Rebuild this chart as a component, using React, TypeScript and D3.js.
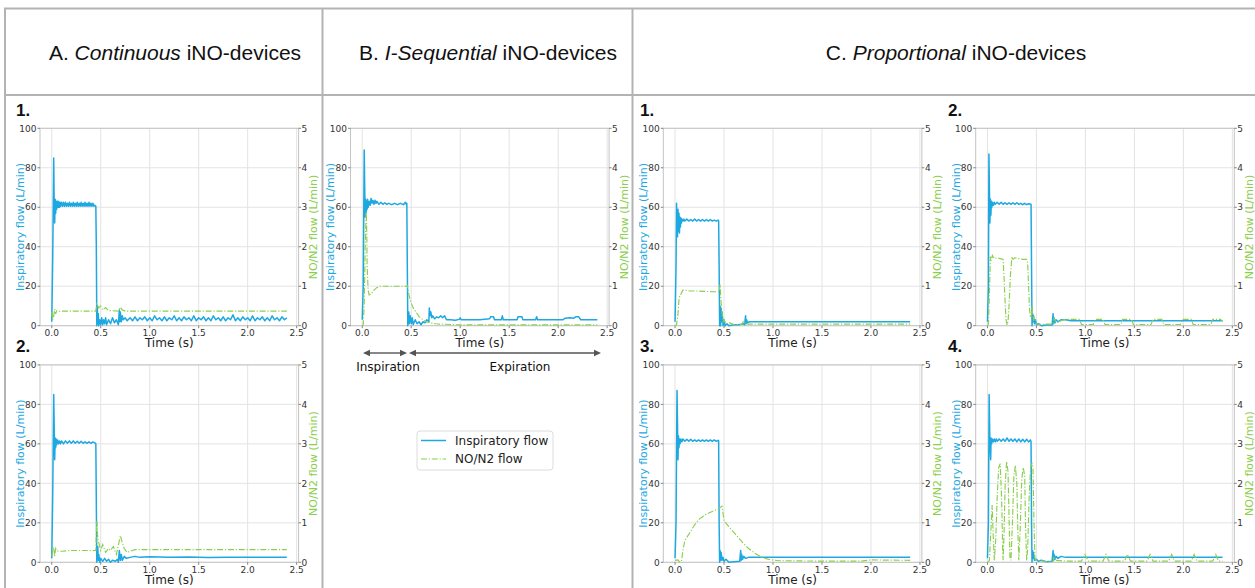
import React from "react";
import * as d3 from "d3";

type Pt = [number, number];

const TIME_TICKS = [0, 0.5, 1.0, 1.5, 2.0, 2.5];
const LEFT_TICKS = [0, 20, 40, 60, 80, 100];
const RIGHT_TICKS = [0, 1, 2, 3, 4, 5];

// ---- A1 (Continuous, device 1) ----
const a1Insp: Pt[] = [
  [0,2],[0.01,35],[0.02,85],[0.025,60],[0.03,52],[0.035,64],[0.04,57],[0.045,63],[0.05,59],[0.055,63],[0.06,60],[0.065,63],[0.07,60],[0.075,62.5],[0.08,60],[0.085,62.5],[0.09,60.5],[0.1,62.5],[0.11,60.5],[0.12,62.5],[0.13,60.5],[0.14,62.5],[0.15,60.5],[0.16,62],[0.17,60.5],[0.18,62.5],[0.19,60.5],[0.2,62],[0.21,60.5],[0.22,62.5],[0.23,60.5],[0.24,62],[0.25,60.5],[0.26,62.5],[0.27,60.5],[0.28,62],[0.29,60.5],[0.3,62.5],[0.31,60.5],[0.32,62],[0.33,60.5],[0.34,62.5],[0.35,60.5],[0.36,62],[0.37,60.5],[0.38,62.5],[0.39,60.5],[0.4,62],[0.41,60.5],[0.42,62],[0.43,60.5],[0.44,61],[0.45,60.5],[0.455,40],[0.46,0],[0.465,10],[0.47,1],[0.475,6],[0.48,0],[0.49,3],[0.5,0.5],[0.51,4],[0.52,0.5],[0.53,3],[0.54,1],[0.55,4],[0.56,0.5],[0.58,3],[0.6,1],[0.62,4],[0.64,1.5],[0.66,3],[0.68,0.5],[0.69,8],[0.695,2],[0.7,7],[0.71,2],[0.72,5],[0.73,3],[0.75,4],[0.77,2.5],
  [0.8,4],[0.825,2.5],[0.85,4.5],[0.875,2.5],[0.9,4],[0.925,3],[0.95,4.5],[0.975,2.5],[1.0,4],[1.025,2.5],[1.05,5],[1.075,3],[1.1,4],[1.125,2.5],[1.15,4.5],[1.175,2.5],[1.2,4],[1.225,3],[1.25,5],[1.275,2.5],[1.3,4],[1.325,2.5],[1.35,4.5],[1.375,3],[1.4,4],[1.425,2.5],[1.45,5],[1.475,2.5],[1.5,4],[1.525,3],[1.55,4.5],[1.575,2.5],[1.6,4],[1.625,2.5],[1.65,5],[1.675,3],[1.7,4],[1.725,2.5],[1.75,4.5],[1.775,2.5],[1.8,4],[1.825,3],[1.85,5.5],[1.875,2.5],[1.9,4],[1.925,2.5],[1.95,4.5],[1.975,3],[2.0,4],[2.025,2.5],[2.05,5],[2.075,2.5],[2.1,4],[2.125,3],[2.15,4.5],[2.175,2.5],[2.2,4],[2.225,2.5],[2.25,5],[2.275,3],[2.3,4],[2.325,2.5],[2.35,4.5],[2.375,3],[2.4,4]
];
const a1No: Pt[] = [
  [0,0.35],[0.01,0.15],[0.02,0.25],[0.03,0.42],[0.04,0.3],[0.05,0.38],[0.07,0.36],[0.1,0.37],[0.45,0.37],[0.46,0.55],[0.48,0.45],[0.5,0.5],[0.52,0.4],[0.55,0.46],[0.58,0.38],[0.62,0.38],[0.68,0.37],[0.7,0.47],[0.72,0.4],[0.75,0.37],[1.5,0.37],[2.4,0.37]
];

// ---- A2 (Continuous, device 2) ----
const a2Insp: Pt[] = [
  [0,2],[0.01,35],[0.02,85],[0.03,52],[0.035,63],[0.04,58],[0.045,62.5],[0.05,59.5],[0.06,62],[0.07,60],[0.08,61.5],[0.09,60],[0.1,61.5],[0.12,60],[0.14,61.5],[0.16,60.3],[0.18,61.5],[0.2,60.3],[0.22,61.5],[0.24,60.3],[0.26,61.3],[0.28,60.3],[0.3,61.3],[0.32,60.3],[0.34,61],[0.36,60.3],[0.38,61],[0.4,60.3],[0.42,61],[0.44,60.5],[0.45,60],[0.455,30],[0.46,0],[0.47,8],[0.475,1],[0.48,4],[0.49,0],[0.5,2],[0.52,0.5],[0.54,2],[0.56,0.5],[0.58,1.5],[0.6,0],[0.62,1],[0.65,0.5],[0.67,1.5],[0.68,0],[0.69,6],[0.7,1],[0.71,4],[0.72,1],[0.74,3],[0.76,2],[0.8,2.5],[0.85,3],[0.9,2.5],[1.0,2.8],[1.2,2.5],[1.4,2.7],[1.6,2.4],[1.8,2.6],[2.0,2.5],[2.2,2.6],[2.4,2.5]
];
const a2No: Pt[] = [
  [0,0.15],[0.01,0.3],[0.02,0.38],[0.03,0.15],[0.04,0.35],[0.05,0.3],[0.07,0.28],[0.1,0.28],[0.2,0.3],[0.45,0.3],[0.455,0.8],[0.46,1.05],[0.47,0.6],[0.48,0.5],[0.5,0.3],[0.52,0.45],[0.55,0.25],[0.58,0.35],[0.6,0.3],[0.63,0.4],[0.66,0.2],[0.69,0.55],[0.7,0.68],[0.72,0.5],[0.74,0.35],[0.77,0.25],[0.8,0.28],[0.85,0.32],[1.5,0.32],[2.4,0.32]
];

// ---- B (I-Sequential) ----
const bInsp: Pt[] = [
  [0,3],[0.01,20],[0.02,89],[0.025,70],[0.03,55],[0.035,64],[0.04,57],[0.045,63],[0.05,59],[0.055,64],[0.06,60],[0.07,63],[0.08,61],[0.09,64.5],[0.1,62],[0.11,63.5],[0.12,61.5],[0.13,63.5],[0.14,62],[0.15,63],[0.17,61.5],[0.19,62.5],[0.21,61.5],[0.23,62.3],[0.25,61.5],[0.27,62],[0.3,61.3],[0.33,62],[0.36,61.3],[0.39,62],[0.42,61.3],[0.44,62.5],[0.45,61.5],[0.455,62],[0.46,30],[0.465,0],[0.47,5],[0.475,7],[0.48,1],[0.49,5],[0.5,1],[0.51,4],[0.52,0.5],[0.54,3],[0.56,1],[0.58,2],[0.6,0.5],[0.62,2],[0.64,1.5],[0.66,3],[0.68,2],[0.685,9],[0.69,5],[0.7,7],[0.71,4],[0.72,5],[0.74,3.5],[0.76,4.5],[0.78,4],[0.8,5],[0.82,4],[0.84,5],[0.86,3],[0.9,3],[0.95,2.8],[0.99,3.2],[1.0,4],[1.01,3],[1.1,3],[1.2,3],[1.3,3.5],[1.31,4.5],[1.34,4.5],[1.35,3],[1.42,3],[1.43,5],[1.44,3],[1.58,3],[1.59,4.5],[1.63,4.5],[1.64,3],[1.77,3],[1.78,4.5],[1.79,3],[2.05,3],[2.07,3.8],[2.12,4],[2.16,3.8],[2.18,4.5],[2.21,4.5],[2.23,3],[2.4,3]
];
const bNo: Pt[] = [
  [0,0],[0.01,0.02],[0.02,0.5],[0.03,2.0],[0.04,2.9],[0.045,2.5],[0.05,1.5],[0.06,0.9],[0.07,0.78],[0.09,0.8],[0.12,0.9],[0.15,0.97],[0.18,1.0],[0.3,1.0],[0.45,1.0],[0.46,1.02],[0.47,0.85],[0.49,0.65],[0.5,0.57],[0.52,0.45],[0.55,0.34],[0.58,0.23],[0.62,0.15],[0.65,0.1],[0.7,0.07],[0.75,0.05],[0.8,0.04],[0.9,0.03],[1.0,0.02],[1.5,0.02],[2.0,0.02],[2.4,0.02]
];

// ---- C1 (Proportional, device 1) ----
const c1Insp: Pt[] = [
  [0,2],[0.01,30],[0.015,62],[0.02,50],[0.025,45],[0.03,59],[0.035,48],[0.04,57],[0.045,47],[0.05,55],[0.055,50],[0.06,54.5],[0.065,52],[0.07,54],[0.08,53],[0.09,54],[0.1,53],[0.12,54],[0.14,53],[0.16,53.8],[0.18,53],[0.2,54],[0.22,53],[0.24,53.8],[0.26,53],[0.28,53.8],[0.3,53],[0.32,53.8],[0.34,53],[0.36,53.8],[0.38,53],[0.4,53.5],[0.42,53],[0.44,53.5],[0.445,53],[0.45,30],[0.455,0],[0.46,10],[0.465,0],[0.47,9],[0.475,2],[0.48,7],[0.49,0],[0.5,3],[0.51,0],[0.53,1],[0.55,0],[0.6,0.5],[0.65,0.5],[0.7,1],[0.71,0.5],[0.72,5],[0.725,1],[0.73,3],[0.74,1.5],[0.76,2],[0.8,2],[1.0,2],[1.5,2],[2.0,2],[2.4,2]
];
const c1No: Pt[] = [
  [0,0],[0.015,0.02],[0.03,0.3],[0.04,0.65],[0.05,0.78],[0.06,0.8],[0.08,0.9],[0.1,0.9],[0.15,0.88],[0.2,0.88],[0.3,0.87],[0.4,0.86],[0.45,0.86],[0.46,1.05],[0.47,0.6],[0.48,0.3],[0.49,0.1],[0.5,0.15],[0.52,0.04],[0.55,0.08],[0.6,0.03],[0.68,0.03],[0.7,0.12],[0.72,0.05],[0.75,0.04],[1.0,0.04],[1.5,0.04],[2.0,0.04],[2.4,0.04]
];

// ---- C2 (Proportional, device 2) ----
const c2Insp: Pt[] = [
  [0,2],[0.01,20],[0.015,87],[0.02,70],[0.025,52],[0.03,64],[0.035,56],[0.04,63],[0.045,60],[0.05,62.5],[0.06,61],[0.07,62.5],[0.08,61.5],[0.1,62.5],[0.12,61.5],[0.14,62.5],[0.16,61.5],[0.18,62.3],[0.2,61.5],[0.22,62.3],[0.24,61.5],[0.26,62.3],[0.28,61.5],[0.3,62.3],[0.32,61.5],[0.34,62],[0.36,61.3],[0.38,62],[0.4,61.3],[0.42,61.8],[0.44,61.5],[0.445,61.5],[0.45,30],[0.455,0],[0.46,6],[0.465,2],[0.47,5],[0.48,1],[0.49,3],[0.5,0.5],[0.52,1],[0.55,0],[0.6,0.3],[0.66,0.3],[0.67,6],[0.675,1],[0.68,4],[0.69,1.5],[0.7,3],[0.72,2],[0.75,3],[0.8,3],[0.85,2.5],[1.0,2.5],[1.5,2.5],[2.0,2.5],[2.4,2.5]
];
const c2No: Pt[] = [
  [0,0],[0.01,0.05],[0.02,0.8],[0.03,1.75],[0.04,1.65],[0.05,1.78],[0.07,1.7],[0.1,1.72],[0.13,1.7],[0.16,1.68],[0.17,1.2],[0.18,0.6],[0.19,0.15],[0.2,0.02],[0.21,0.1],[0.22,0.5],[0.235,1.3],[0.25,1.75],[0.26,1.68],[0.28,1.72],[0.32,1.7],[0.36,1.68],[0.4,1.68],[0.41,1.6],[0.42,1.0],[0.43,0.4],[0.44,0.2],[0.45,0.3],[0.455,0.5],[0.46,0.35],[0.47,0.15],[0.48,0.2],[0.5,0.05],[0.55,0.03],[0.6,0.04],[0.67,0.04],[0.68,0.18],[0.7,0.08],[0.73,0.1],[0.76,0.14],[0.8,0.16],[0.94,0.16],[0.96,0.03],[1.08,0.03],[1.1,0.16],[1.18,0.16],[1.2,0.03],[1.36,0.03],[1.38,0.16],[1.47,0.16],[1.49,0.03],[1.67,0.03],[1.69,0.16],[1.78,0.16],[1.8,0.03],[1.97,0.03],[1.99,0.16],[2.08,0.16],[2.1,0.03],[2.28,0.03],[2.3,0.16],[2.38,0.16],[2.4,0.1]
];

// ---- C3 (Proportional, device 3) ----
const c3Insp: Pt[] = [
  [0,2],[0.01,20],[0.02,87],[0.025,70],[0.03,52],[0.035,64],[0.04,58],[0.045,62.5],[0.05,60],[0.06,62.5],[0.07,61],[0.08,62.5],[0.1,61.3],[0.12,62.3],[0.14,61.3],[0.16,62.3],[0.18,61.3],[0.2,62],[0.22,61.3],[0.24,62],[0.26,61.3],[0.28,62],[0.3,61.3],[0.32,62],[0.34,61.3],[0.36,62],[0.38,61.3],[0.4,62],[0.42,61.3],[0.44,61.8],[0.445,61.5],[0.45,20],[0.455,0],[0.46,6],[0.465,1],[0.47,5],[0.48,1],[0.49,2.5],[0.5,0.5],[0.52,1.5],[0.55,0],[0.6,0.3],[0.66,0.5],[0.67,6],[0.675,1],[0.68,4],[0.69,1.5],[0.7,3],[0.72,2],[0.75,2.5],[0.8,2.5],[1.0,2.5],[1.5,2.5],[2.0,2.5],[2.4,2.5]
];
const c3No: Pt[] = [
  [0,0.05],[0.03,0.06],[0.05,0.0],[0.067,0.05],[0.08,0.3],[0.1,0.55],[0.15,0.75],[0.2,0.95],[0.25,1.1],[0.32,1.22],[0.39,1.3],[0.44,1.35],[0.48,1.42],[0.5,1.05],[0.55,0.9],[0.62,0.7],[0.69,0.5],[0.75,0.35],[0.82,0.22],[0.89,0.12],[0.96,0.07],[1.06,0.04],[1.5,0.03],[1.9,0.03],[2.0,0.06],[2.4,0.05]
];

// ---- C4 (Proportional, device 4) ----
const c4Insp: Pt[] = [
  [0,2],[0.01,20],[0.017,85],[0.025,60],[0.033,52],[0.037,63],[0.042,60],[0.05,62.5],[0.06,61],[0.07,62.5],[0.08,61],[0.09,62.5],[0.1,61.3],[0.12,62.5],[0.14,61.3],[0.16,62.5],[0.18,61.3],[0.2,63],[0.22,61.3],[0.24,62.5],[0.26,61.3],[0.28,62.5],[0.3,61],[0.32,62.5],[0.34,61],[0.36,62.3],[0.38,61],[0.4,62.3],[0.42,61],[0.44,62],[0.445,61],[0.45,20],[0.455,0],[0.46,6],[0.465,2],[0.47,5],[0.48,1],[0.5,1.5],[0.52,0.5],[0.55,1],[0.6,0.3],[0.66,0.5],[0.67,6],[0.675,1],[0.68,4],[0.69,1.5],[0.7,3],[0.72,2],[0.75,3],[0.8,2.5],[1.0,2.5],[1.5,2.5],[2.0,2.5],[2.4,2.5]
];
const c4No: Pt[] = [
  [0,0],[0.02,0.05],[0.035,0.8],[0.048,1.45],[0.06,0.6],[0.07,0.05],[0.085,0.6],[0.1,1.7],[0.115,2.4],[0.13,2.5],[0.145,1.6],[0.155,0.3],[0.16,0.05],[0.17,0.8],[0.18,1.9],[0.195,2.55],[0.21,2.3],[0.22,1.2],[0.23,0.1],[0.24,0.05],[0.255,1.0],[0.27,2.2],[0.285,2.45],[0.3,2.0],[0.31,0.8],[0.32,0.05],[0.335,0.9],[0.35,2.1],[0.365,2.4],[0.38,2.2],[0.39,0.8],[0.4,0.05],[0.41,0.3],[0.425,1.6],[0.44,2.4],[0.455,2.5],[0.465,2.4],[0.475,1.0],[0.485,0.1],[0.5,0.05],[0.55,0.04],[0.6,0.02],[0.67,0.02],[0.68,0.15],[0.7,0.05],[0.8,0.03],[0.96,0.03],[0.995,0.2],[1.03,0.03],[1.18,0.03],[1.21,0.2],[1.24,0.03],[1.4,0.03],[1.43,0.2],[1.46,0.03],[1.63,0.03],[1.66,0.2],[1.69,0.03],[1.85,0.03],[1.88,0.2],[1.91,0.03],[2.08,0.03],[2.11,0.2],[2.14,0.03],[2.3,0.03],[2.33,0.2],[2.36,0.03],[2.4,0.03]
];

const BLUE = "#1ea8e2";
const GREEN = "#8ccf4d";
const GRID = "#e3e3e3";
const SPINE = "#c4c4c4";
const TABLE = "#b3b3b3";
const PW = 258.6;
const PH = 197.4;
const TICK_FONT = "DejaVu Sans";

function Panel({ x0, y0, insp, no }: { x0: number; y0: number; insp: Pt[]; no: Pt[] }) {
  const xs = d3.scaleLinear().domain([-0.12, 2.52]).range([x0, x0 + PW]);
  const yl = d3.scaleLinear().domain([0, 100]).range([y0 + PH, y0]);
  const yr = d3.scaleLinear().domain([0, 5]).range([y0 + PH, y0]);
  const lineL = d3.line<Pt>().x((d) => xs(d[0])).y((d) => yl(d[1]));
  const lineR = d3.line<Pt>().x((d) => xs(d[0])).y((d) => yr(d[1]));
  const bottom = y0 + PH;
  const right = x0 + PW;
  const midY = y0 + PH / 2;
  return (
    <g>
      {TIME_TICKS.map((t) => (
        <line key={"gx" + t} x1={xs(t)} x2={xs(t)} y1={y0} y2={bottom} stroke={GRID} strokeWidth={1} />
      ))}
      {LEFT_TICKS.map((v) => (
        <line key={"gy" + v} x1={x0} x2={right} y1={yl(v)} y2={yl(v)} stroke={GRID} strokeWidth={1} />
      ))}
      <rect x={x0} y={y0} width={PW} height={PH} fill="none" stroke={SPINE} strokeWidth={1} />
      {TIME_TICKS.map((t) => (
        <g key={"tx" + t}>
          <line x1={xs(t)} x2={xs(t)} y1={bottom} y2={bottom + 2.5} stroke="#666" strokeWidth={0.8} />
          <text x={xs(t)} y={bottom + 10.3} fontSize={9} fontFamily={TICK_FONT} fill="#333" textAnchor="middle">
            {t.toFixed(1)}
          </text>
        </g>
      ))}
      {LEFT_TICKS.map((v) => (
        <g key={"tl" + v}>
          <line x1={x0 - 2.5} x2={x0} y1={yl(v)} y2={yl(v)} stroke="#666" strokeWidth={0.8} />
          <text x={x0 - 3.5} y={yl(v) + 3.2} fontSize={9} fontFamily={TICK_FONT} fill="#333" textAnchor="end">
            {v}
          </text>
        </g>
      ))}
      {RIGHT_TICKS.map((v) => (
        <g key={"tr" + v}>
          <line x1={right} x2={right + 2.5} y1={yr(v)} y2={yr(v)} stroke="#666" strokeWidth={0.8} />
          <text x={right + 3} y={yr(v) + 3.2} fontSize={9} fontFamily={TICK_FONT} fill="#333" textAnchor="start">
            {v}
          </text>
        </g>
      ))}
      <path d={lineL(insp) || ""} fill="none" stroke={BLUE} strokeWidth={1.5} strokeLinejoin="round" />
      <path d={lineR(no) || ""} fill="none" stroke={GREEN} strokeWidth={1.15} strokeDasharray="6,1.8,1.2,1.8" />
      <text
        transform={`translate(${x0 - 20},${midY}) rotate(-90)`}
        fontSize={11}
        fontFamily={TICK_FONT}
        fill={BLUE}
        textAnchor="middle"
        dy="0.35em"
      >
        Inspiratory flow (L/min)
      </text>
      <text
        transform={`translate(${right + 15},${midY}) rotate(-90)`}
        fontSize={11}
        fontFamily={TICK_FONT}
        fill={GREEN}
        textAnchor="middle"
        dy="0.35em"
      >
        NO/N2 flow (L/min)
      </text>
      <text x={(x0 + right) / 2} y={bottom + 21.5} fontSize={12} fontFamily={TICK_FONT} fill="#222" textAnchor="middle">
        Time (s)
      </text>
    </g>
  );
}

function Arrow({ x1, x2, y }: { x1: number; x2: number; y: number }) {
  const L = 7;
  const H = 3.2;
  return (
    <g fill="#555" stroke="#555">
      <line x1={x1 + L - 1} x2={x2 - L + 1} y1={y} y2={y} strokeWidth={1.4} />
      <polygon points={`${x1},${y} ${x1 + L},${y - H} ${x1 + L},${y + H}`} stroke="none" />
      <polygon points={`${x2},${y} ${x2 - L},${y - H} ${x2 - L},${y + H}`} stroke="none" />
    </g>
  );
}

const HEADER_FONT = "Liberation Sans, Arial, sans-serif";

export default function App() {
  const top1 = 128.3;
  const top2 = 364.9;
  return (
    <svg
      width={1255}
      height={588}
      style={{ position: "absolute", left: 0, top: 0, background: "#fff" }}
    >
      <rect x={0} y={0} width={1255} height={588} fill="#fff" />
      {/* table grid */}
      <line x1={4} x2={1255} y1={8.5} y2={8.5} stroke={TABLE} strokeWidth={2} />
      <line x1={4} x2={1255} y1={95} y2={95} stroke={TABLE} strokeWidth={2} />
      <line x1={5} x2={5} y1={8} y2={588} stroke={TABLE} strokeWidth={2} />
      <line x1={322.5} x2={322.5} y1={8} y2={588} stroke={TABLE} strokeWidth={2} />
      <line x1={632.5} x2={632.5} y1={8} y2={588} stroke={TABLE} strokeWidth={2} />

      {/* headers */}
      <text x={175} y={59.5} fontSize={21} fontFamily={HEADER_FONT} fill="#111" textAnchor="middle">
        A. <tspan fontStyle="italic">Continuous</tspan> iNO-devices
      </text>
      <text x={488} y={59.5} fontSize={21} fontFamily={HEADER_FONT} fill="#111" textAnchor="middle">
        B. <tspan fontStyle="italic">I-Sequential</tspan> iNO-devices
      </text>
      <text x={956} y={59.5} fontSize={21} fontFamily={HEADER_FONT} fill="#111" textAnchor="middle">
        C. <tspan fontStyle="italic">Proportional</tspan> iNO-devices
      </text>

      {/* panel numbers */}
      <g fontFamily={HEADER_FONT} fontWeight="bold" fontSize={17} fill="#111">
        <text x={16} y={116}>1.</text>
        <text x={16} y={352}>2.</text>
        <text x={640} y={116}>1.</text>
        <text x={948} y={116}>2.</text>
        <text x={640} y={352}>3.</text>
        <text x={948} y={352}>4.</text>
      </g>

      <Panel x0={40} y0={top1} insp={a1Insp} no={a1No} />
      <Panel x0={40} y0={top2} insp={a2Insp} no={a2No} />
      <Panel x0={350.5} y0={top1} insp={bInsp} no={bNo} />
      <Panel x0={663.3} y0={top1} insp={c1Insp} no={c1No} />
      <Panel x0={975.7} y0={top1} insp={c2Insp} no={c2No} />
      <Panel x0={663.3} y0={top2} insp={c3Insp} no={c3No} />
      <Panel x0={975.7} y0={top2} insp={c4Insp} no={c4No} />

      {/* inspiration / expiration arrows */}
      <Arrow x1={363} x2={407} y={353} />
      <Arrow x1={409} x2={601} y={353} />
      <text x={388} y={371} fontSize={12} fontFamily={TICK_FONT} fill="#111" textAnchor="middle">
        Inspiration
      </text>
      <text x={520} y={371} fontSize={12} fontFamily={TICK_FONT} fill="#111" textAnchor="middle">
        Expiration
      </text>

      {/* legend */}
      <rect x={417} y={431} width={136} height={39} rx={3} fill="#fff" stroke="#dcdcdc" strokeWidth={1} />
      <line x1={421} x2={446} y1={440.5} y2={440.5} stroke={BLUE} strokeWidth={1.5} />
      <line x1={421} x2={446} y1={459} y2={459} stroke={GREEN} strokeWidth={1.15} strokeDasharray="6,1.8,1.2,1.8" />
      <text x={455} y={444.5} fontSize={12} fontFamily={TICK_FONT} fill="#222">
        Inspiratory flow
      </text>
      <text x={455} y={463} fontSize={12} fontFamily={TICK_FONT} fill="#222">
        NO/N2 flow
      </text>
    </svg>
  );
}
